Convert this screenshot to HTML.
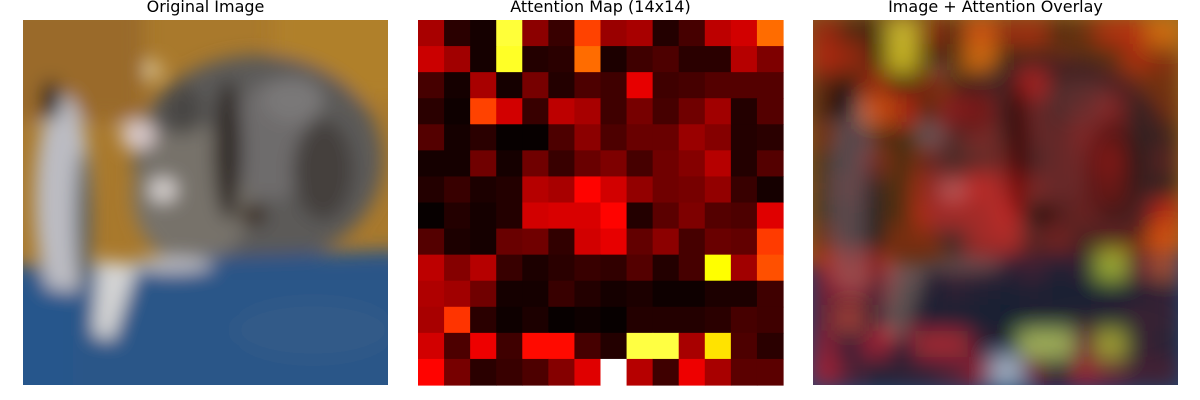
<!DOCTYPE html>
<html><head><meta charset="utf-8"><style>
html,body{margin:0;padding:0;background:#fff;width:1200px;height:400px;overflow:hidden}
svg{display:block}
text{font-family:"DejaVu Sans","Liberation Sans",sans-serif;font-size:16px;fill:#000}
</style></head><body>
<svg id="fig" width="1200" height="400" viewBox="0 0 1200 400">
<defs>
<filter id="b1" x="-20%" y="-20%" width="140%" height="140%"><feGaussianBlur stdDeviation="9"/></filter>
<filter id="b2" x="-20%" y="-20%" width="140%" height="140%"><feGaussianBlur stdDeviation="10"/></filter>
<clipPath id="c1"><rect x="0" y="0" width="365" height="365"/></clipPath>
<g id="cat">
<rect x="0" y="0" width="365" height="365" fill="#a9792c"/>
<g filter="url(#b1)">
<rect x="-20" y="-20" width="140" height="120" fill="#9a6a2c"/>
<rect x="250" y="-20" width="140" height="100" fill="#b0802a"/>
<ellipse cx="235" cy="140" rx="125" ry="105" fill="#5c5a58"/>
<ellipse cx="170" cy="175" rx="60" ry="70" fill="#77726a"/>
<ellipse cx="250" cy="120" rx="40" ry="60" fill="#6e6c6c"/>
<ellipse cx="205" cy="130" rx="14" ry="70" fill="#302c28"/>
<ellipse cx="300" cy="150" rx="30" ry="50" fill="#44403e"/>
<ellipse cx="270" cy="80" rx="30" ry="22" fill="#7a7878"/>
<ellipse cx="160" cy="90" rx="20" ry="25" fill="#4a4644"/>
<ellipse cx="115" cy="115" rx="18" ry="15" fill="#d8c8c8"/>
<ellipse cx="140" cy="170" rx="14" ry="12" fill="#d8d2d0"/>
<ellipse cx="230" cy="195" rx="14" ry="10" fill="#3a2a1a"/>
<ellipse cx="130" cy="50" rx="8" ry="8" fill="#e8d8b0"/>
<rect x="-30" y="245" width="430" height="150" fill="#2a5688"/>
<polygon points="110,240 380,230 380,260 120,260" fill="#2b5587"/>
<ellipse cx="40" cy="180" rx="28" ry="105" fill="#bcbcc2"/>
<ellipse cx="28" cy="80" rx="10" ry="20" fill="#202020"/>
<ellipse cx="60" cy="200" rx="8" ry="70" fill="#586068"/>
<polygon points="75,240 115,245 90,320 70,315" fill="#d4d4d4"/>
<ellipse cx="150" cy="245" rx="40" ry="8" fill="#bcbcc2"/>
<rect x="-20" y="270" width="70" height="110" fill="#28568c"/>
<ellipse cx="290" cy="310" rx="80" ry="30" fill="#305a88"/>
</g>
</g>
</defs>
<text x="205.5" y="12" text-anchor="middle">Original Image</text>
<text x="600.5" y="12" text-anchor="middle">Attention Map (14x14)</text>
<text x="995.5" y="12" text-anchor="middle">Image + Attention Overlay</text>
<g transform="translate(23,20)" clip-path="url(#c1)"><use href="#cat"/></g>
<g id="heat" transform="translate(418,20)"></g>
<g transform="translate(813,20)" clip-path="url(#c1)">
<use href="#cat"/>
<rect x="0" y="0" width="365" height="365" fill="#000" opacity="0.15"/>
<g id="overlayHeat" filter="url(#b2)" opacity="0.55"></g>
</g>
</svg>
<script>
const rowLabels=[0,1,2,3,4,5,6,7,8,9,10,11,12,13];
const attentionRows=[
[0.24,0.06,0.03,0.79,0.20,0.08,0.46,0.22,0.24,0.05,0.10,0.27,0.30,0.52],
[0.29,0.23,0.03,0.77,0.05,0.06,0.52,0.04,0.09,0.11,0.06,0.06,0.26,0.18],
[0.10,0.03,0.24,0.03,0.17,0.05,0.11,0.09,0.33,0.09,0.10,0.12,0.12,0.12],
[0.06,0.02,0.46,0.30,0.08,0.27,0.24,0.09,0.17,0.10,0.16,0.23,0.05,0.12],
[0.12,0.03,0.06,0.01,0.01,0.11,0.20,0.11,0.15,0.15,0.22,0.19,0.05,0.06],
[0.03,0.03,0.16,0.03,0.16,0.08,0.15,0.18,0.10,0.16,0.19,0.26,0.05,0.12],
[0.05,0.08,0.04,0.05,0.26,0.24,0.37,0.30,0.21,0.16,0.17,0.21,0.08,0.03],
[0.01,0.05,0.03,0.05,0.30,0.31,0.31,0.37,0.05,0.13,0.18,0.12,0.11,0.32],
[0.12,0.04,0.03,0.15,0.16,0.07,0.30,0.33,0.14,0.20,0.10,0.15,0.14,0.45],
[0.27,0.19,0.26,0.08,0.04,0.06,0.08,0.07,0.12,0.05,0.10,0.73,0.23,0.48],
[0.25,0.23,0.16,0.03,0.03,0.08,0.05,0.03,0.04,0.02,0.02,0.04,0.04,0.09],
[0.24,0.44,0.06,0.02,0.04,0.01,0.02,0.01,0.05,0.05,0.05,0.06,0.10,0.09],
[0.30,0.11,0.34,0.09,0.38,0.38,0.10,0.05,0.80,0.80,0.24,0.69,0.11,0.06],
[0.37,0.17,0.06,0.08,0.11,0.19,0.32,1.00,0.26,0.09,0.34,0.24,0.13,0.13]
];
const N=14, size=365, cell=size/N;
function xPos(c){return c*cell;}
function yPos(r){return r*cell;}
function hot(v){
  const cl=t=>Math.max(0,Math.min(1,t));
  const r=cl(v/0.365),g=cl((v-0.365)/0.365),b=cl((v-0.73)/0.27);
  return `rgb(${Math.round(r*255)},${Math.round(g*255)},${Math.round(b*255)})`;
}
const NS="http://www.w3.org/2000/svg";
const heat=document.getElementById('heat');
const ov=document.getElementById('overlayHeat');
attentionRows.forEach((row,r)=>{
  row.forEach((v,c)=>{
    const rect=document.createElementNS(NS,'rect');
    rect.setAttribute('x',xPos(c));rect.setAttribute('y',yPos(r));
    rect.setAttribute('width',cell+0.6);rect.setAttribute('height',cell+0.6);
    rect.setAttribute('fill',hot(v));
    
    
    heat.appendChild(rect);
    const o=document.createElementNS(NS,'rect');
    o.setAttribute('x',xPos(c)-2);o.setAttribute('y',yPos(r)-2);
    o.setAttribute('width',cell+4);o.setAttribute('height',cell+4);
    o.setAttribute('fill',hot(v));
    
    
    ov.appendChild(o);
  });
});
</script>
</body></html>
